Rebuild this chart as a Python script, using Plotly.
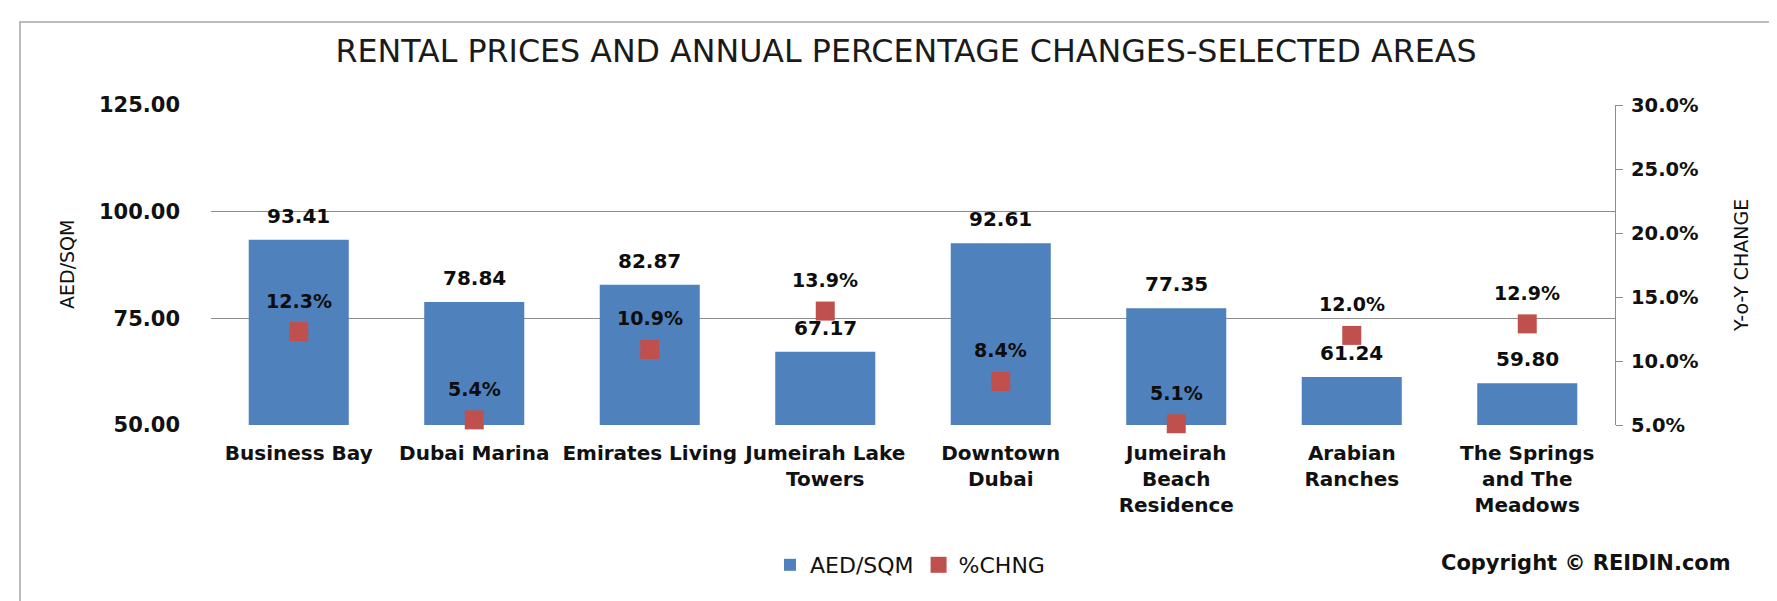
import plotly.graph_objects as go

# ---- data ----
categories = ["Business Bay", "Dubai Marina", "Emirates Living", "Jumeirah Lake Towers",
              "Downtown Dubai", "Jumeirah Beach Residence", "Arabian Ranches",
              "The Springs and The Meadows"]
tick_labels = ["Business Bay", "Dubai Marina", "Emirates Living", "Jumeirah Lake<br>Towers",
               "Downtown<br>Dubai", "Jumeirah<br>Beach<br>Residence", "Arabian<br>Ranches",
               "The Springs<br>and The<br>Meadows"]
aed_sqm = [93.41, 78.84, 82.87, 67.17, 92.61, 77.35, 61.24, 59.80]
pct_chng = [12.3, 5.4, 10.9, 13.9, 8.4, 5.1, 12.0, 12.9]
left_ticks = [50, 75, 100, 125]
right_ticks = [5, 10, 15, 20, 25, 30]
right_tick_labels = ["5.0%", "10.0%", "15.0%", "20.0%", "25.0%", "30.0%"]

# ---- layout geometry (pixels) ----
W, H = 1777, 601
PL, PR, PT, PB = 203, 1607, 97, 417


def px(x):
    return (x - PL) / (PR - PL)


def py(y):
    return (PB - y) / (PB - PT)


FONT = "DejaVu Sans"
BAR_C = "#4F81BD"
MK_C = "#C0504D"
GRID_C = "#8C8C8C"

fig = go.Figure()
fig.add_trace(go.Bar(
    x=categories, y=aed_sqm, name="AED/SQM", marker=dict(color=BAR_C, line=dict(width=0)),
    yaxis="y", hoverinfo="skip"))
fig.add_trace(go.Scatter(
    x=categories, y=pct_chng, name="%CHNG", mode="markers", yaxis="y2",
    marker=dict(symbol="square", size=19, color=MK_C), cliponaxis=False, hoverinfo="skip"))

annotations = []
for c, v in zip(categories, aed_sqm):
    annotations.append(dict(x=c, y=v, xref="x", yref="y", text=f"<b>{v:.2f}</b>",
                            showarrow=False, yshift=24, yanchor="middle",
                            font=dict(family=FONT, size=20, color="#0d0d0d")))
for c, v in zip(categories, pct_chng):
    annotations.append(dict(x=c, y=v, xref="x", yref="y2", text=f"<b>{v:.1f}%</b>",
                            showarrow=False, yshift=31, yanchor="middle",
                            font=dict(family=FONT, size=19, color="#0d0d0d")))

annotations.append(dict(x=px(59), y=0.5, xref="paper", yref="paper", text="AED/SQM",
                        textangle=-90, showarrow=False, xanchor="center", yanchor="middle",
                        font=dict(family=FONT, size=19, color="#111111")))
annotations.append(dict(x=px(1733), y=0.5, xref="paper", yref="paper", text="Y-o-Y CHANGE",
                        textangle=-90, showarrow=False, xanchor="center", yanchor="middle",
                        font=dict(family=FONT, size=19, color="#111111")))
annotations.append(dict(x=px(1578), y=py(555), xref="paper", yref="paper",
                        text="<b>Copyright © REIDIN.com</b>", showarrow=False,
                        xanchor="center", yanchor="middle",
                        font=dict(family=FONT, size=21, color="#111111")))

fig.update_layout(
    width=W, height=H,
    margin=dict(l=PL, r=W - PR, t=PT, b=H - PB, autoexpand=False),
    paper_bgcolor="white", plot_bgcolor="white",
    title=dict(text="RENTAL PRICES AND ANNUAL PERCENTAGE CHANGES-SELECTED AREAS",
               x=898 / W, xanchor="center", y=1 - 43 / H, yanchor="middle",
               xref="container", yref="container",
               font=dict(family=FONT, size=31.7, color="#1a1a1a")),
    bargap=0.43,
    showlegend=True,
    legend=dict(orientation="h", x=px(902), xanchor="center", y=py(557), yanchor="middle",
                font=dict(family=FONT, size=22, color="#111111"), bgcolor="rgba(0,0,0,0)",
                itemclick=False),
    xaxis=dict(type="category", tickmode="array", tickvals=categories, ticktext=tick_labels,
               showline=False, showgrid=False, ticks="", zeroline=False,
               tickfont=dict(family=FONT, size=20, color="#111111", weight="bold"),
               ticklabelstandoff=14, tickangle=0),
    yaxis=dict(range=[50, 125], tickmode="array", tickvals=left_ticks, tickformat=".2f",
               showgrid=True, gridcolor=GRID_C, gridwidth=1.2, showline=False, zeroline=False,
               ticks="", tickfont=dict(family=FONT, size=21, color="#111111", weight="bold"),
               ticklabelstandoff=30, fixedrange=True),
    yaxis2=dict(range=[5, 30], tickmode="array", tickvals=right_ticks,
                ticktext=right_tick_labels, overlaying="y", side="right", showgrid=False,
                showline=True, linecolor=GRID_C, linewidth=1.2, ticks="outside", ticklen=7,
                tickcolor=GRID_C, zeroline=False,
                tickfont=dict(family=FONT, size=19.5, color="#111111", weight="bold"),
                ticklabelstandoff=4),
    annotations=annotations,
    shapes=[dict(type="rect", xref="paper", yref="paper",
                 x0=px(12), x1=px(1771), y0=py(640), y1=py(14),
                 line=dict(color="#A6A6A6", width=1.5), fillcolor="rgba(0,0,0,0)",
                 layer="below")],
)

fig.write_html("out.html")
